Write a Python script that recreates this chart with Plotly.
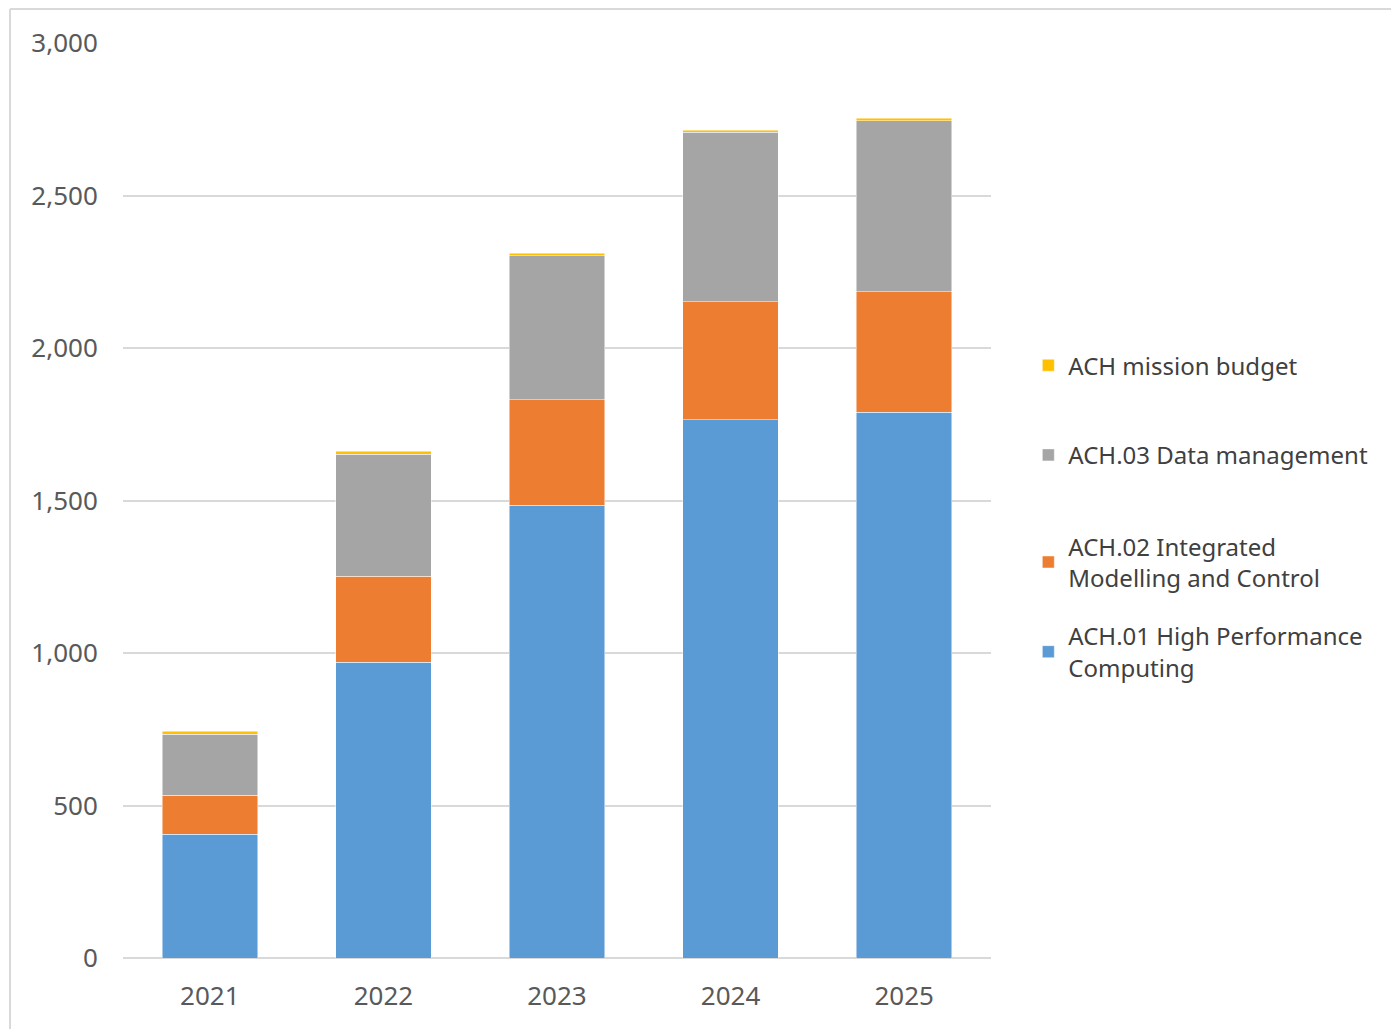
import plotly.graph_objects as go

years = ["2021", "2022", "2023", "2024", "2025"]
hpc = [406, 970, 1484, 1765, 1790]
imc = [128, 281, 346, 386, 394]
data_mgmt = [200, 400, 473, 556, 561]
mission = [9, 10, 8, 7, 9]

names = [
    "ACH.01 High Performance<br>Computing",
    "ACH.02 Integrated<br>Modelling and Control",
    "ACH.03 Data management",
    "ACH mission budget",
]
colors = ["#5B9BD5", "#ED7D31", "#A5A5A5", "#FFC000"]
series = [hpc, imc, data_mgmt, mission]
legend_ids = ["legend4", "legend3", "legend2", "legend"]
legend_y = [0.376, 0.474, 0.574, 0.672]

OFF = 8  # page body margin
W, H = 1399, 1029
L, T = 123 - OFF, 43 - OFF
R = W + OFF - 991
B = H + OFF - 958
PW, PH = W - L - R, H - T - B

fig = go.Figure()
for vals, nm, col, lg in zip(series, names, colors, legend_ids):
    fig.add_trace(go.Bar(
        x=years, y=vals, name=nm, legend=lg,
        marker=dict(color=col, line=dict(color="rgba(255,255,255,0.6)", width=0.8)),
    ))

font_leg = dict(family="Noto Sans", size=24, color="#404040")
layout_legends = {}
for lg, ly in zip(legend_ids, legend_y):
    layout_legends[lg] = dict(
        x=1.043, y=ly, xanchor="left", yanchor="top",
        font=font_leg, bgcolor="rgba(0,0,0,0)", itemclick=False,
    )

bx = (10 - OFF - L) / PW
by = (H - B - 1) / PH

fig.update_layout(
    width=W, height=H,
    margin=dict(l=L, r=R, t=T, b=B, pad=0),
    barmode="stack", bargap=0.45,
    plot_bgcolor="white", paper_bgcolor="white",
    showlegend=True,
    xaxis=dict(
        tickfont=dict(family="Noto Sans", size=26, color="#595959"),
        showgrid=False, showline=False, ticks="outside", ticklen=15, tickcolor="white",
    ),
    yaxis=dict(
        range=[0, 3000], dtick=500, tickformat=",",
        tickfont=dict(family="Noto Sans", size=26, color="#595959"),
        gridcolor="#D9D9D9", gridwidth=1.5, zeroline=True, zerolinecolor="#D9D9D9",
        zerolinewidth=1.5, showline=False, ticks="outside", ticklen=19, tickcolor="white",
    ),
    shapes=[
        dict(type="line", xref="paper", yref="paper",
             x0=bx, x1=(W - L) / PW, y0=by, y1=by,
             line=dict(color="#D9D9D9", width=2)),
        dict(type="line", xref="paper", yref="paper",
             x0=bx, x1=bx, y0=by, y1=-B / PH,
             line=dict(color="#D9D9D9", width=2)),
    ],
    **layout_legends,
)

fig.write_html("out.html")
